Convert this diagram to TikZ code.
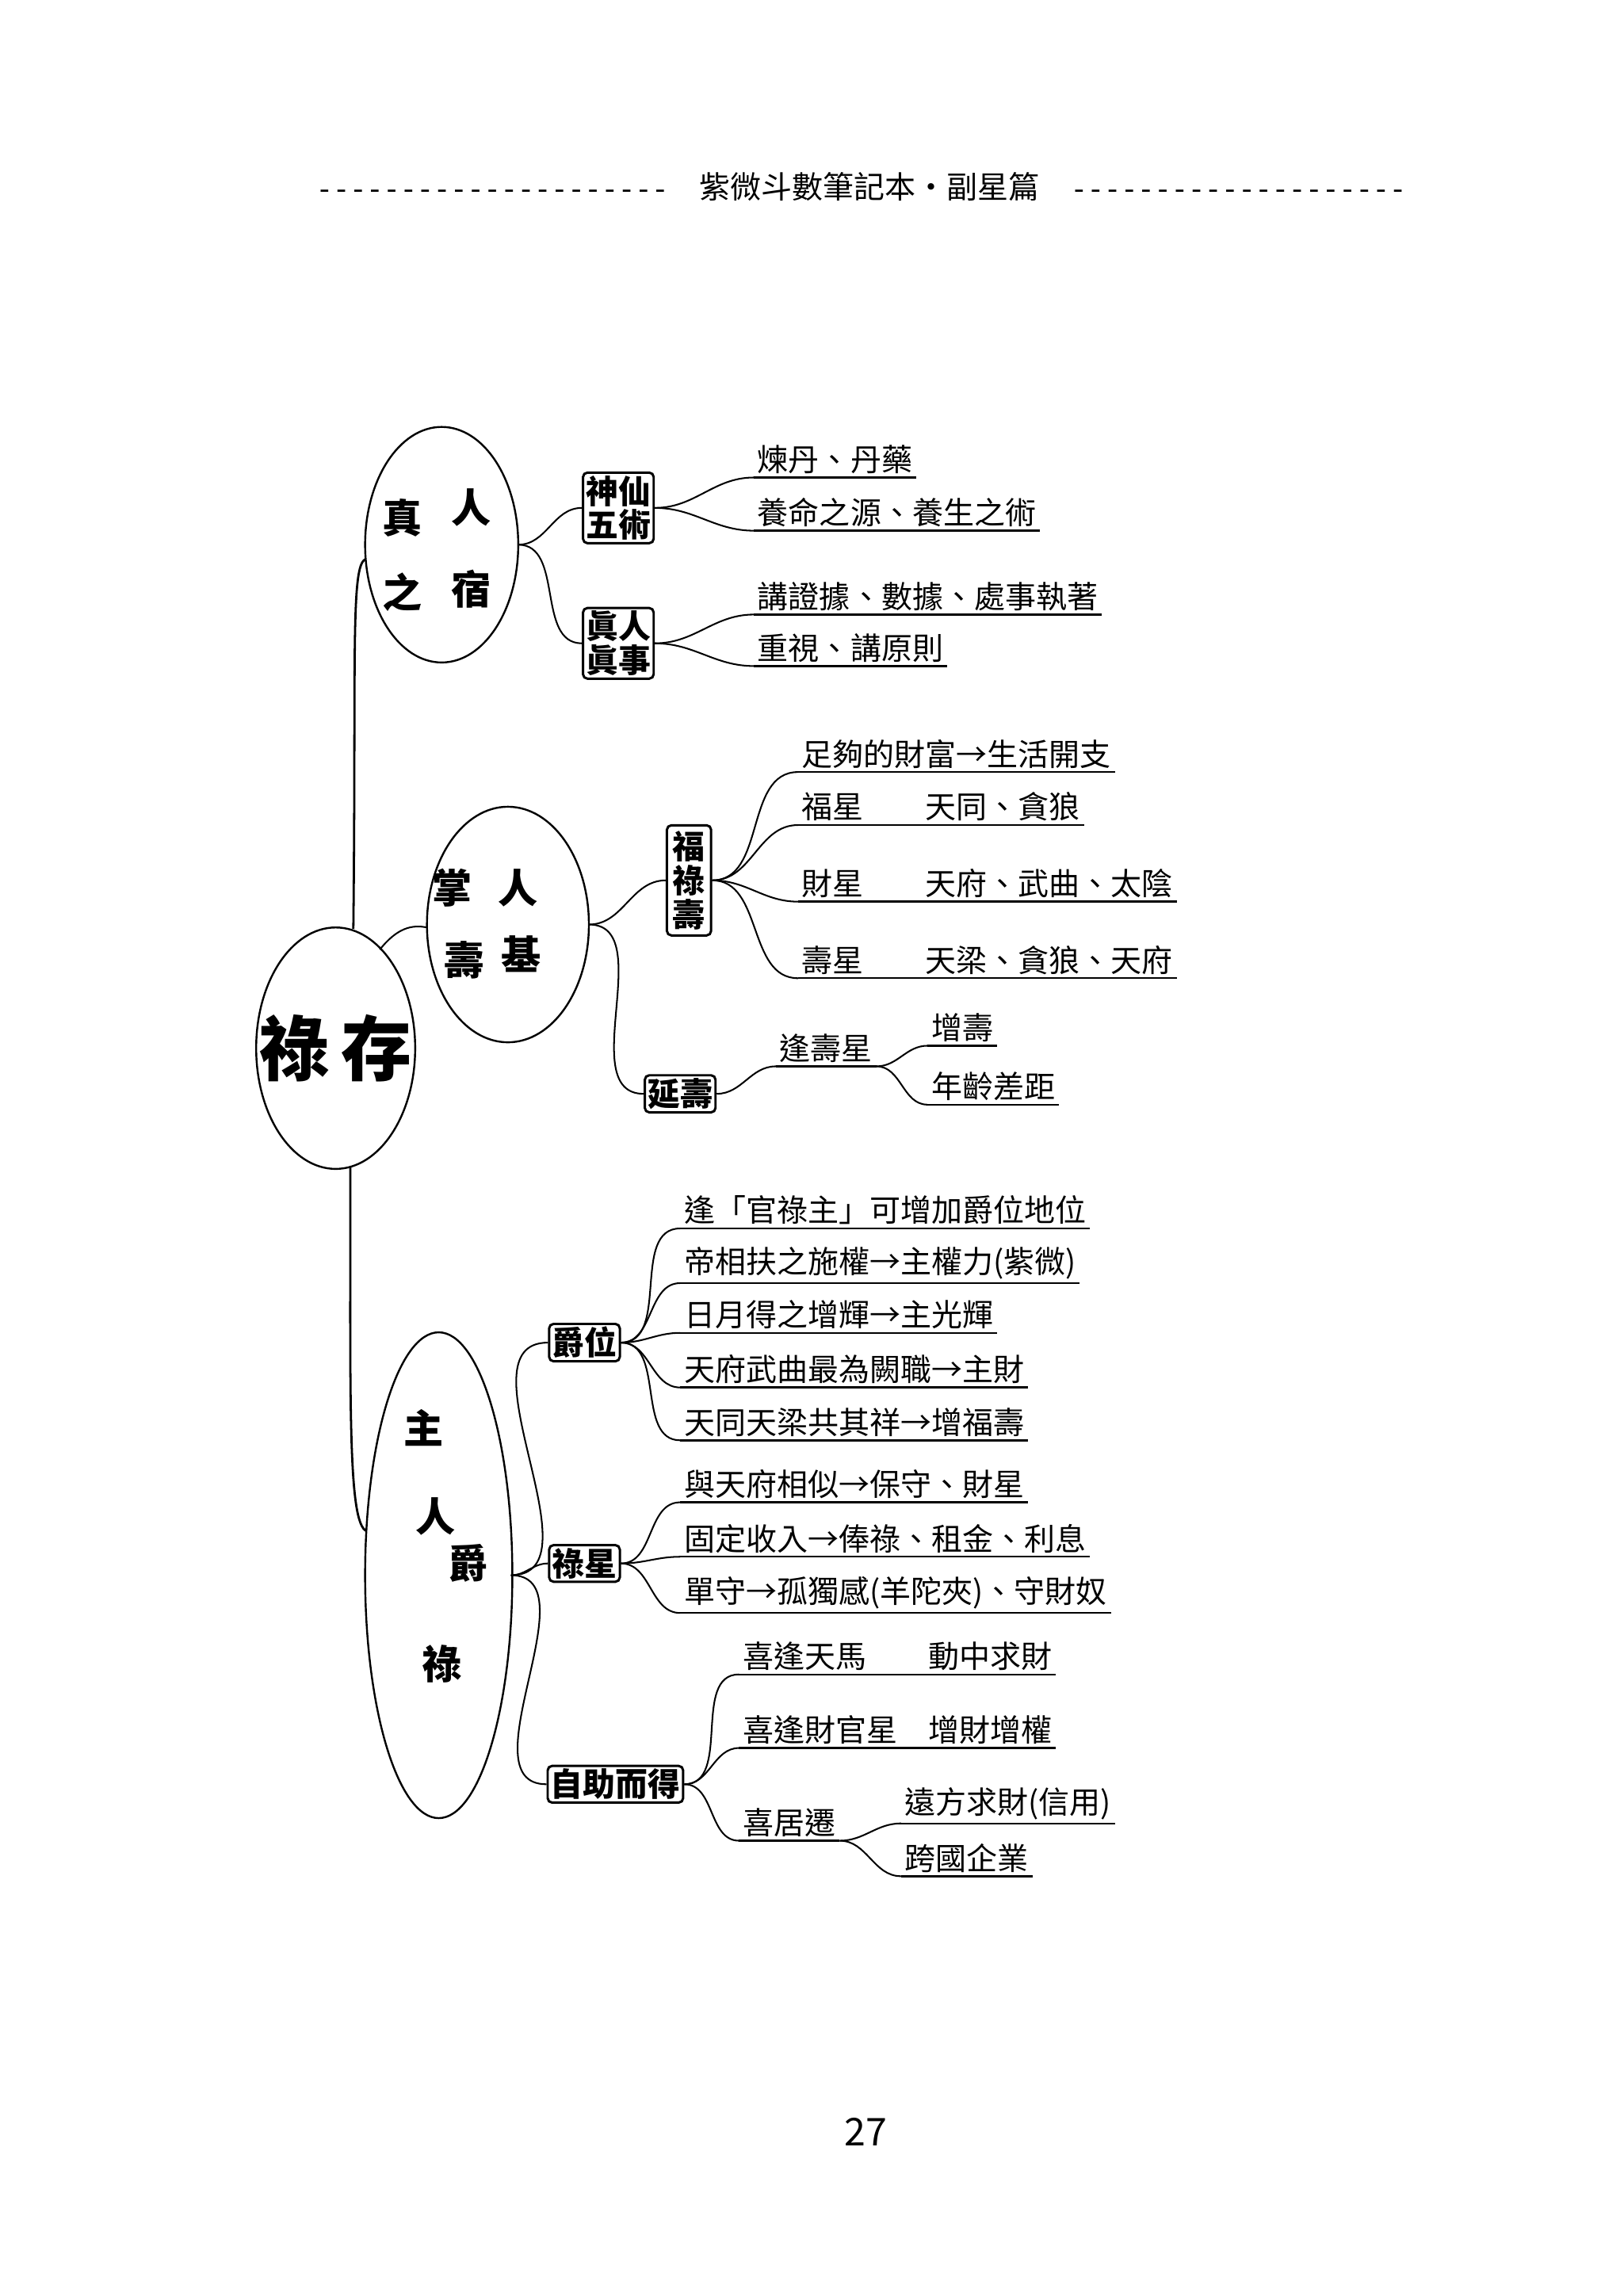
\documentclass[tikz,border=0pt]{standalone}
\usepackage{fontspec}
\setmainfont{Noto Sans CJK TC}
\newfontfamily\dashfont{Liberation Mono}
\begin{document}
\begin{tikzpicture}[x=1pt,y=-1pt,line width=1.3pt,
 lt/.style={anchor=west,inner sep=2pt,font=\fontsize{21}{24}\selectfont,
   append after command={(\tikzlastnode.south west) edge[-] (\tikzlastnode.south east)}},
 bx/.style={draw,rounded corners=3pt,line width=1.6pt,inner sep=2pt,align=center,font=\fontsize{22}{23}\selectfont\bfseries},
 ch/.style={font=\fontsize{27}{27}\selectfont\bfseries},
 cn/.style={line width=1.1pt}]
\useasboundingbox (0,0) rectangle (1103,1544);
\node[font=\fontsize{21}{24}\selectfont] (hd) at (585,127) {{\dashfont\fontsize{19}{24}\selectfont ---------------------}\quad 紫微斗數筆記本‧副星篇\quad {\dashfont\fontsize{19}{24}\selectfont --------------------}};
\node[font=\fontsize{26}{28}\selectfont] (pg) at (588,1448) {27};
% main
\draw[line width=1.3pt] (228,712) ellipse (54 and 82);
\node[font=\fontsize{48}{54}\selectfont\bfseries] (mt) at (228,712) {祿\,存};
\coordinate (mtop) at (240,631);
\coordinate (mbot) at (238,793);
% circles
\draw[line width=1.3pt] (300,370) ellipse (52 and 80);
\coordinate (c1w) at (248,380); \coordinate (c1e) at (352,370);
\node[ch] (c1a) at (273,352) {真}; \node[ch] (c1b) at (320,345) {人};
\node[ch] (c1c) at (273,402) {之}; \node[ch] (c1d) at (320,400) {宿};
\draw[line width=1.3pt] (345,628) ellipse (55 and 80);
\coordinate (c2w) at (290,630); \coordinate (c2e) at (400,628);
\node[ch] (c2a) at (307,603) {掌}; \node[ch] (c2b) at (352,603) {人};
\node[ch] (c2c) at (315,652) {壽}; \node[ch] (c2d) at (354,648) {基};
\draw[line width=1.3pt] (298,1070) ellipse (50 and 165);
\coordinate (c3w) at (249,1040); \coordinate (c3e) at (347,1070);
\node[ch] (c3a) at (288,970) {主}; \node[ch] (c3b) at (296,1030) {人};
\node[ch] (c3c) at (318,1062) {爵}; \node[ch] (c3d) at (300,1130) {祿};
% trunk
\draw[cn,line width=1.5pt] (mtop) .. controls (242,450) and (238,385) .. (c1w);
\draw[cn,line width=1.5pt] (mbot) .. controls (238,950) and (236,1035) .. (c3w);
\draw[cn] (258,645) .. controls (270,630) and (280,628) .. (c2w);
% boxes
\node[bx] (b1) at (420,345) {神仙\\五術};
\node[bx] (b2) at (420,437) {眞人\\眞事};
\node[bx,inner sep=4pt] (b3) at (468,598) {福\\祿\\壽};
\node[bx] (b4) at (462,743) {延壽};
\node[bx] (b5) at (397,912) {爵位};
\node[bx] (b6) at (397,1062) {祿星};
\node[bx] (b7) at (418,1212) {自助而得};
\foreach \b in {b1,b2} \draw[cn] (c1e) to[out=0,in=180] (\b.west);
\foreach \b in {b3,b4} \draw[cn] (c2e) to[out=0,in=180] (\b.west);
\foreach \b in {b5,b6,b7} \draw[cn] (c3e) to[out=0,in=180] (\b.west);
% texts
\node[lt] (t1) at (512,312) {煉丹、丹藥};
\node[lt] (t2) at (512,348) {養命之源、養生之術};
\node[lt] (t3) at (512,405) {講證據、數據、處事執著};
\node[lt] (t4) at (512,440) {重視、講原則};
\foreach \t in {t1,t2} \draw[cn] (b1.east) to[out=0,in=180] (\t.south west);
\foreach \t in {t3,t4} \draw[cn] (b2.east) to[out=0,in=180] (\t.south west);
\node[lt] (u1) at (542,512) {足夠的財富→生活開支};
\node[lt] (u2) at (542,548) {福星\quad\quad 天同、貪狼};
\node[lt] (u3) at (542,600) {財星\quad\quad 天府、武曲、太陰};
\node[lt] (u4) at (542,652) {壽星\quad\quad 天梁、貪狼、天府};
\foreach \t in {u1,u2,u3,u4} \draw[cn] (b3.east) to[out=0,in=180] (\t.south west);
\node[lt] (v1) at (527,712) {逢壽星};
\draw[cn] (b4.east) to[out=0,in=180] (v1.south west);
\node[lt] (v2) at (630,698) {增壽};
\node[lt] (v3) at (630,738) {年齡差距};
\draw[cn] (v1.south east) to[out=0,in=180] (v2.south west);
\draw[cn] (v1.south east) to[out=0,in=180] (v3.south west);
\node[lt] (w1) at (462,822) {逢「官祿主」可增加爵位地位};
\node[lt] (w2) at (462,858) {帝相扶之施權→主權力(紫微)};
\node[lt] (w3) at (462,893) {日月得之增輝→主光輝};
\node[lt] (w4) at (462,930) {天府武曲最為闕職→主財};
\node[lt] (w5) at (462,966) {天同天梁共其祥→增福壽};
\foreach \t in {w1,w2,w3,w4,w5} \draw[cn] (b5.east) to[out=0,in=180] (\t.south west);
\node[lt] (x1) at (462,1008) {與天府相似→保守、財星};
\node[lt] (x2) at (462,1045) {固定收入→俸祿、租金、利息};
\node[lt] (x3) at (462,1082) {單守→孤獨感(羊陀夾)、守財奴};
\foreach \t in {x1,x2,x3} \draw[cn] (b6.east) to[out=0,in=180] (\t.south west);
\node[lt] (y1) at (502,1125) {喜逢天馬\quad\quad 動中求財};
\node[lt] (y2) at (502,1175) {喜逢財官星\quad 增財增權};
\node[lt] (y3) at (502,1238) {喜居遷\quad };
\foreach \t in {y1,y2,y3} \draw[cn] (b7.east) to[out=0,in=180] (\t.south west);
\node[lt] (y4) at (612,1225) {遠方求財(信用)\quad};
\node[lt] (y5) at (612,1262) {跨國企業};
\draw[cn] (y3.south east) to[out=0,in=180] (y4.south west);
\draw[cn] (y3.south east) to[out=0,in=180] (y5.south west);
\end{tikzpicture}
\end{document}
